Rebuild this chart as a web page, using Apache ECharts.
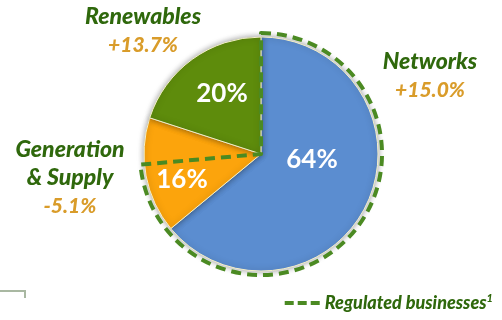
<!DOCTYPE html>
<html>
<head>
<meta charset="utf-8">
<script src="https://cdn.jsdelivr.net/npm/echarts@6/dist/echarts.min.js"></script>
<style>
  html, body { margin:0; padding:0; background:#fff; }
  #chart { width:502px; height:320px; }
</style>
</head>
<body>
<div id="chart"></div>
<script>
const segments = ['Networks', 'Generation\n& Supply', 'Renewables'];
const shares = [64, 16, 20];
const growth = ['+15.0%', '-5.1%', '+13.7%'];
const regulatedShare = [73.6, 26.4];
const legendName = 'Regulated businesses';

(function(){
    const chart = echarts.init(document.getElementById('chart'));
    const center = [261, 154];
    const colors = ['#5b8dd0', '#fca40c', '#5e8c0c'];
    const green = '#2f680c';
    const gold = '#d99c2a';
    const font = 'Lato';

    // label spots, same order as segments
    const pctPos = [[312, 160], [182, 180], [222, 94]];
    const namePos = [[430, 76], [70, 178], [143, 31]];

    const option = {
        animation:false,
        legend:{
            selectedMode:false,
            right:4,
            bottom:3,
            itemWidth:35,
            itemHeight:4,
            itemGap:11,
            data:[{
                name:legendName,
                icon:'path://M0,0h9v4h-9z M13,0h9v4h-9z M26,0h9v4h-9z',
                itemStyle:{ color:'#4b8a22', borderWidth:0 }
            }],
            formatter: n => '{t|' + n + '}{s|1}',
            textStyle:{
                rich:{
                    t:{ fontFamily:font, fontSize:18, fontWeight:900, fontStyle:'italic', color:green },
                    s:{ fontFamily:font, fontSize:11, fontWeight:900, fontStyle:'italic', color:green, verticalAlign:'top', padding:[0,0,9,0] }
                }
            }
        },
        graphic:[{
            type:'polyline',
            shape:{ points:[[0,291],[25,291],[25,298]] },
            style:{ stroke:'#a9b8a2', lineWidth:2, fill:null }
        }],
        series:[{
            type:'pie',
            center:center,
            radius:[0, 117],
            startAngle:90,
            silent:true,
            z:2,
            itemStyle:{
                borderColor:'#f3efc8',
                borderWidth:1,
                shadowBlur:6,
                shadowColor:'rgba(0,0,0,0.4)'
            },
            label:{
                show:true,
                position:'inside',
                formatter: p => p.value + '%',
                fontFamily:font,
                fontSize:26,
                fontWeight:'bold',
                color:'#fff'
            },
            labelLayout: p => ({
                x:pctPos[p.dataIndex][0],
                y:pctPos[p.dataIndex][1],
                align:'center',
                verticalAlign:'middle'
            }),
            data:shares.map((v, i) => ({
                name:segments[i],
                value:v,
                itemStyle:{ color:colors[i] }
            }))
        }, {
            // name + growth labels only
            type:'pie',
            center:center,
            radius:[0, 117],
            startAngle:90,
            silent:true,
            z:1,
            itemStyle:{ color:'transparent' },
            label:{
                show:true,
                position:'inside',
                formatter: p => '{n|' + p.name + '}\n{g|' + growth[p.dataIndex] + '}',
                rich:{
                    n:{ fontFamily:font, fontSize:23, fontWeight:900, fontStyle:'italic', color:green, lineHeight:28, align:'center' },
                    g:{ fontFamily:font, fontSize:21, fontWeight:900, fontStyle:'italic', color:gold, lineHeight:29, align:'center' }
                }
            },
            labelLayout: p => ({
                x:namePos[p.dataIndex][0],
                y:namePos[p.dataIndex][1],
                align:'center',
                verticalAlign:'middle'
            }),
            data:shares.map((v, i) => ({ name:segments[i], value:v }))
        }, {
            // dashed outline of regulated part
            type:'pie',
            center:center,
            radius:[0, 121],
            startAngle:90,
            silent:true,
            z:3,
            label:{ show:false },
            data:[{
                name:legendName,
                value:regulatedShare[0],
                itemStyle:{ color:'transparent', borderColor:'#4b8a22', borderWidth:4, borderType:[10, 6] }
            }, {
                name:'other',
                value:regulatedShare[1],
                itemStyle:{ color:'transparent', borderWidth:0 }
            }]
        }]
    };
    chart.setOption(option);
}());
</script>
</body>
</html>
